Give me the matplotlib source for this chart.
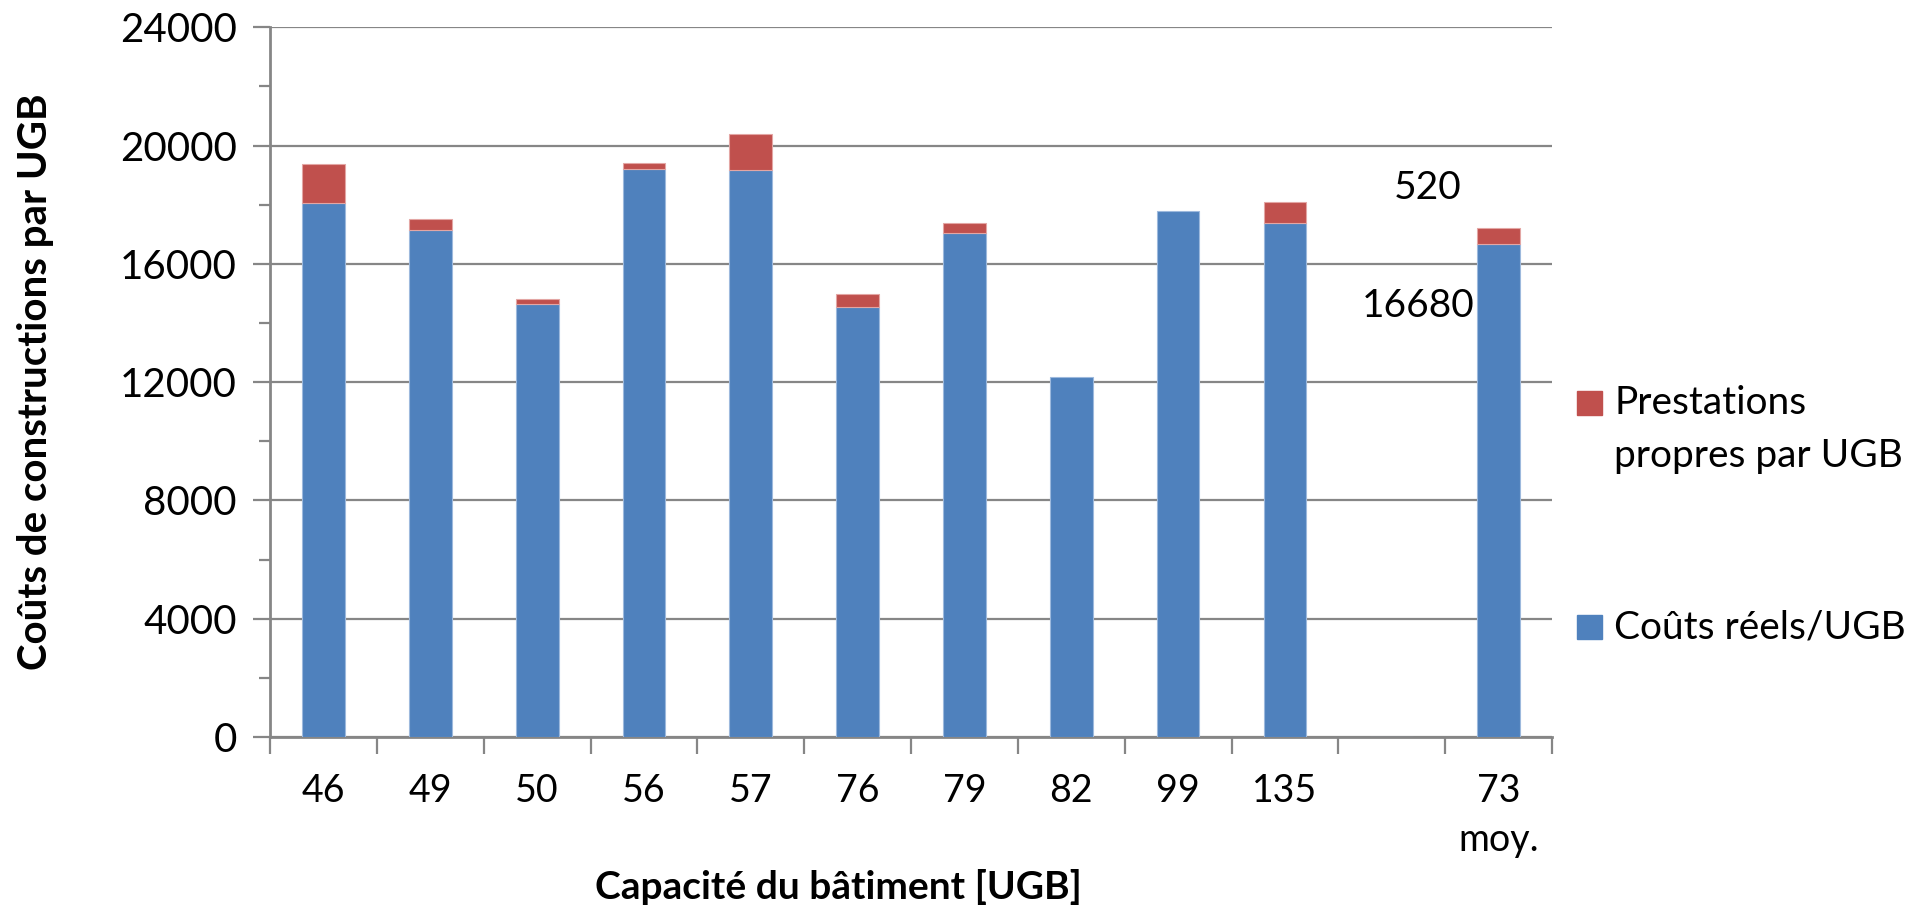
import numpy as np
import matplotlib.pyplot as plt
from matplotlib.patches import Rectangle

categories = ["46", "49", "50", "56", "57", "76", "79", "82", "99", "135", "", "73\nmoy."]
couts_reels = [18040, 17160, 14650, 19200, 19180, 14530, 17040, 12180, 17790, 17370, 0, 16680]
prestations = [1350, 350, 150, 200, 1220, 460, 350, 0, 0, 730, 0, 520]

blue = "#4F81BD"
red = "#C0504D"
grey = "#868686"

plt.rcParams['font.family'] = ['Lato', 'DejaVu Sans']

fig = plt.figure(figsize=(19.32, 9.07), dpi=100)
ax = fig.add_axes([0.1398, 0.1874, 0.6635, 0.7826])

x = np.arange(len(categories))
ax.bar(x, couts_reels, width=0.4, color=blue, edgecolor="#9DB9DD", linewidth=0.8, zorder=3)
red_bars = ax.bar(x, prestations, width=0.4, bottom=couts_reels, color=red, zorder=3)
for b, v in zip(red_bars, prestations):
    if v > 0:
        b.set_edgecolor("#E3A6A4")
        b.set_linewidth(0.8)
    else:
        b.set_visible(False)

# displaced data labels of the average bar
ax.text(10.34, 18580, "520", fontsize=28, ha="center", va="center")
ax.text(10.25, 14580, "16680", fontsize=28, ha="center", va="center")

ax.set_xlim(-0.5, len(categories) - 0.5)
ax.set_ylim(0, 24000)
ax.set_yticks(np.arange(0, 24001, 4000))
ax.set_yticks(np.arange(2000, 24000, 4000), minor=True)
ax.yaxis.grid(True, color=grey, linewidth=1.6, zorder=0)

ax.set_xticks(x)
ax.set_xticklabels(categories, fontsize=27, linespacing=1.45, va="top")
ax.set_xticks(np.arange(-0.5, len(categories), 1), minor=True)
ax.tick_params(axis="x", which="major", length=0, pad=26)
ax.tick_params(axis="x", which="minor", length=12, width=1.6, color=grey, direction="out")
ax.tick_params(axis="y", which="major", length=12, width=1.6, color=grey, labelsize=29, pad=12)
ax.tick_params(axis="y", which="minor", length=8, width=1.6, color=grey)

for s in ["top", "right"]:
    ax.spines[s].set_visible(False)
for s in ["left", "bottom"]:
    ax.spines[s].set_color(grey)
    ax.spines[s].set_linewidth(2)

ax.set_xlabel("Capacité du bâtiment [UGB]", fontsize=28, fontweight="bold", va="center")
ax.xaxis.set_label_coords(0.443, -0.211)
ax.set_ylabel("Coûts de constructions par UGB", fontsize=29, fontweight="bold", va="center")
ax.yaxis.set_label_coords(-0.183, 0.5)

# legend drawn by hand so the red key sits on the first line of its label
W, H = 1932, 907
fig.patches.append(Rectangle((1577 / W, 1 - 415 / H), 25 / W, 24 / H, color=red,
                             transform=fig.transFigure))
fig.patches.append(Rectangle((1577 / W, 1 - 639 / H), 25 / W, 24 / H, color=blue,
                             transform=fig.transFigure))
fig.text(1614 / W, 1 - 403 / H, "Prestations", fontsize=28, va="center")
fig.text(1614 / W, 1 - 456 / H, "propres par UGB", fontsize=28, va="center")
fig.text(1614 / W, 1 - 627 / H, "Coûts réels/UGB", fontsize=28, va="center")

fig.savefig("out.png", dpi=100)
